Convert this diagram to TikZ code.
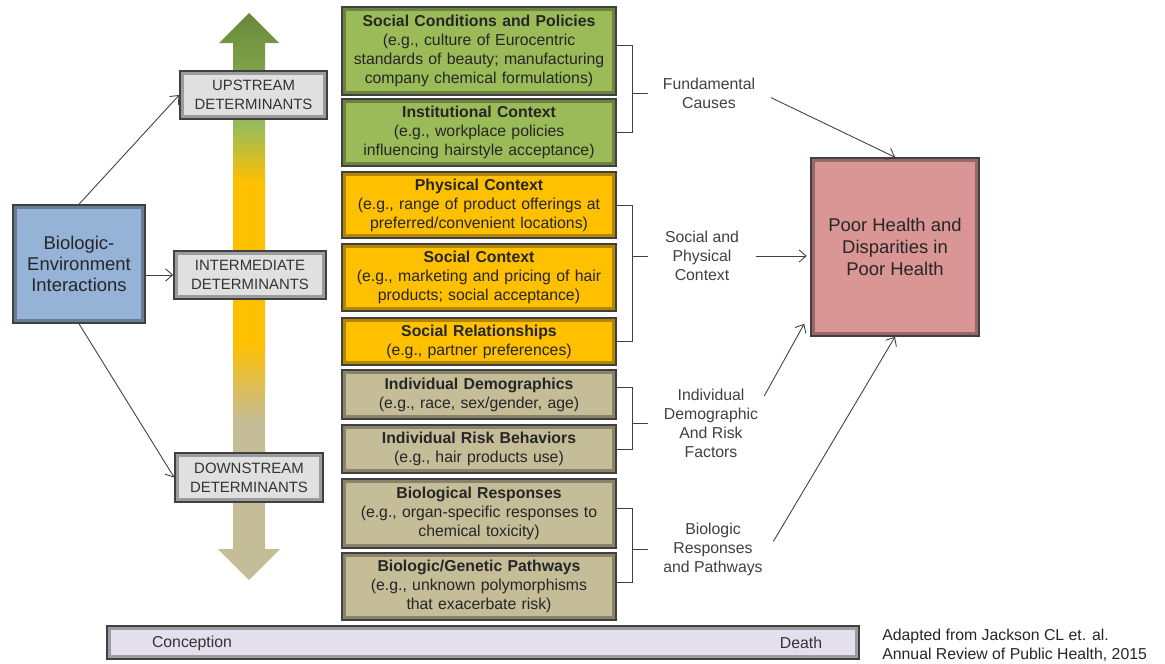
\documentclass[tikz,border=0pt]{standalone}
\usepackage{fontspec}
\setmainfont{Liberation Sans}
\usepackage{xcolor}
\usetikzlibrary{calc, arrows, arrows.meta}

\definecolor{grnbox}{HTML}{9BBB59}
\definecolor{grndark}{HTML}{67883A}
\definecolor{yelbox}{HTML}{FFC000}
\definecolor{tanbox}{HTML}{C4BD97}
\definecolor{bluebox}{HTML}{95B3D7}
\definecolor{redbox}{HTML}{D99694}
\definecolor{lilacbar}{HTML}{E4DFEC}
\definecolor{txtgray}{HTML}{404040}

\pgfdeclareverticalshading{detarrow}{100bp}{color(0bp)=(tanbox); color(39bp)=(tanbox); color(46bp)=(yelbox); color(60bp)=(yelbox); color(65bp)=(grnbox); color(75bp)=(grndark); color(100bp)=(grndark)}

\tikzset{
  shadebox/.style={draw=black!75, line width=0.9pt,
    path picture={\draw[black, opacity=0.3, line width=4pt] (path picture bounding box.south west) rectangle (path picture bounding box.north east);}},
  factor/.style={shadebox, text width=5.3cm, align=center, inner sep=0pt, minimum width=5.48cm, font=\fontsize{9}{10.8}\selectfont, text=black!85},
  determ/.style={shadebox, fill=black!12, align=center, inner sep=0pt, font=\fontsize{8.5}{10.8}\selectfont, text=black!80},
  lbl/.style={align=center, font=\fontsize{9}{10.8}\selectfont, text=txtgray},
  link/.style={-{Straight Barb[length=4pt, width=7pt]}, black!75, line width=0.5pt}
}

\begin{document}
\begin{tikzpicture}[x=0.02cm, y=-0.02cm]

        \useasboundingbox (0,0) rectangle (1165,663);

        %% Up/down arrow
        \shade[shading=detarrow] (249,13) -- (279,43) -- (265,43) -- (265,549) -- (280,549) -- (249,580) -- (218,549) -- (233,549) -- (233,43) -- (219,43) -- cycle;

        %% Biologic-environment box and determinants
        \node (bio) [shadebox, fill=bluebox, minimum width=2.64cm, minimum height=2.36cm, align=center, font=\fontsize{10.5}{12}\selectfont, text=black!85] at (79,264) {Biologic-\\Environment\\Interactions};
        \node (upstream) [determ, minimum width=2.94cm, minimum height=0.96cm] at (253.5,95) {UPSTREAM\\DETERMINANTS};
        \node (interm) [determ, minimum width=3.04cm, minimum height=0.96cm] at (250,275) {INTERMEDIATE\\DETERMINANTS};
        \node (downstream) [determ, minimum width=2.96cm, minimum height=0.98cm] at (249,477.5) {DOWNSTREAM\\DETERMINANTS};

        \draw [link] (bio.north) -- (upstream.west);
        \draw [link] (bio.east |- interm.west) -- (interm.west);
        \draw [link] (bio.south) -- (downstream.west);

        %% Factor boxes
        \node (socpol) [factor, fill=grnbox, minimum height=1.76cm] at (479,51) {\textbf{Social Conditions and Policies}\\(e.g., culture of Eurocentric\\standards of beauty; manufacturing\\company chemical formulations)};
        \node (inst) [factor, fill=grnbox, minimum height=1.34cm] at (479,132.5) {\textbf{Institutional Context}\\(e.g., workplace policies\\influencing hairstyle acceptance)};
        \node (phys) [factor, fill=yelbox, minimum height=1.32cm] at (479,205) {\textbf{Physical Context}\\(e.g., range of product offerings at\\preferred/convenient locations)};
        \node (soccon) [factor, fill=yelbox, minimum height=1.34cm] at (479,277.5) {\textbf{Social Context}\\(e.g., marketing and pricing of hair\\products; social acceptance)};
        \node (socrel) [factor, fill=yelbox, minimum height=0.94cm] at (479,341.5) {\textbf{Social Relationships}\\(e.g., partner preferences)};
        \node (indem) [factor, fill=tanbox, minimum height=0.98cm] at (479,394.5) {\textbf{Individual Demographics}\\(e.g., race, sex/gender, age)};
        \node (indrisk) [factor, fill=tanbox, minimum height=0.96cm] at (479,449) {\textbf{Individual Risk Behaviors}\\(e.g., hair products use)};
        \node (biores) [factor, fill=tanbox, minimum height=1.38cm] at (479,513.5) {\textbf{Biological Responses}\\(e.g., organ-specific responses to\\chemical toxicity)};
        \node (biogen) [factor, fill=tanbox, minimum height=1.34cm] at (479,586.5) {\textbf{Biologic/Genetic Pathways}\\(e.g., unknown polymorphisms\\that exacerbate risk)};

        %% Group labels
        \node (lblfund) [lbl] at (709,93) {Fundamental\\Causes};
        \node (lblsoc) [lbl] at (702,256) {Social and\\Physical\\Context};
        \node (lblind) [lbl] at (711,423) {Individual\\Demographic\\And Risk\\Factors};
        \node (lblbio) [lbl] at (713,549) {Biologic\\Responses\\and Pathways};

        %% Brackets
        \draw [black!75] ($(socpol.east)+(0,-6)$) -- ++(16,0) coordinate (brk1) |- (inst.east);
        \draw [black!75] (brk1 |- lblfund) -- ++(15,0);
        \draw [black!75] (phys.east) -- ++(16,0) coordinate (brk2) |- (socrel.east);
        \draw [black!75] (brk2 |- lblsoc) -- ++(15,0);
        \draw [black!75] ($(indem.east)+(0,-7)$) -- ++(16,0) coordinate (brk3) |- (indrisk.east);
        \draw [black!75] (brk3 |- lblind) -- ++(15,0);
        \draw [black!75] ($(biores.east)+(0,-5)$) -- ++(16,0) coordinate (brk4) |- ($(biogen.east)+(0,-4)$);
        \draw [black!75] (brk4 |- lblbio) -- ++(15,0);

        %% Outcome
        \node (poor) [shadebox, fill=redbox, minimum width=3.36cm, minimum height=3.56cm, align=center, font=\fontsize{10.5}{12.5}\selectfont, text=black!85] at (895,247) {Poor Health and\\Disparities in\\Poor Health};

        \draw [link, shorten <=6pt] (lblfund.east) -- (poor.north);
        \draw [link, shorten <=6pt, shorten >=2pt] (lblsoc.east) -- (lblsoc.east -| poor.west);
        \draw [link] ($(lblind.east)+(0,-27)$) -- ($(poor.south west)+(-6,-13)$);
        \draw [link, shorten <=5pt] (lblbio.east) -- (poor.south);

        %% Life course bar
        \node (timeline) [shadebox, fill=lilacbar, minimum width=15.04cm, minimum height=0.66cm, inner sep=0pt] at (483,642.5) {};
        \node (conception) [font=\fontsize{9}{10.8}\selectfont, text=black!80] at (192,643) {Conception};
        \node (death) [font=\fontsize{9}{10.8}\selectfont, text=black!80] at (801,643) {Death};

        %% Source
        \node (source) [anchor=west, align=left, inner sep=0pt, font=\fontsize{9}{10.6}\selectfont, text=black!85] at (882,645) {Adapted from Jackson CL et. al.\\Annual Review of Public Health, 2015};

\end{tikzpicture}
\end{document}
